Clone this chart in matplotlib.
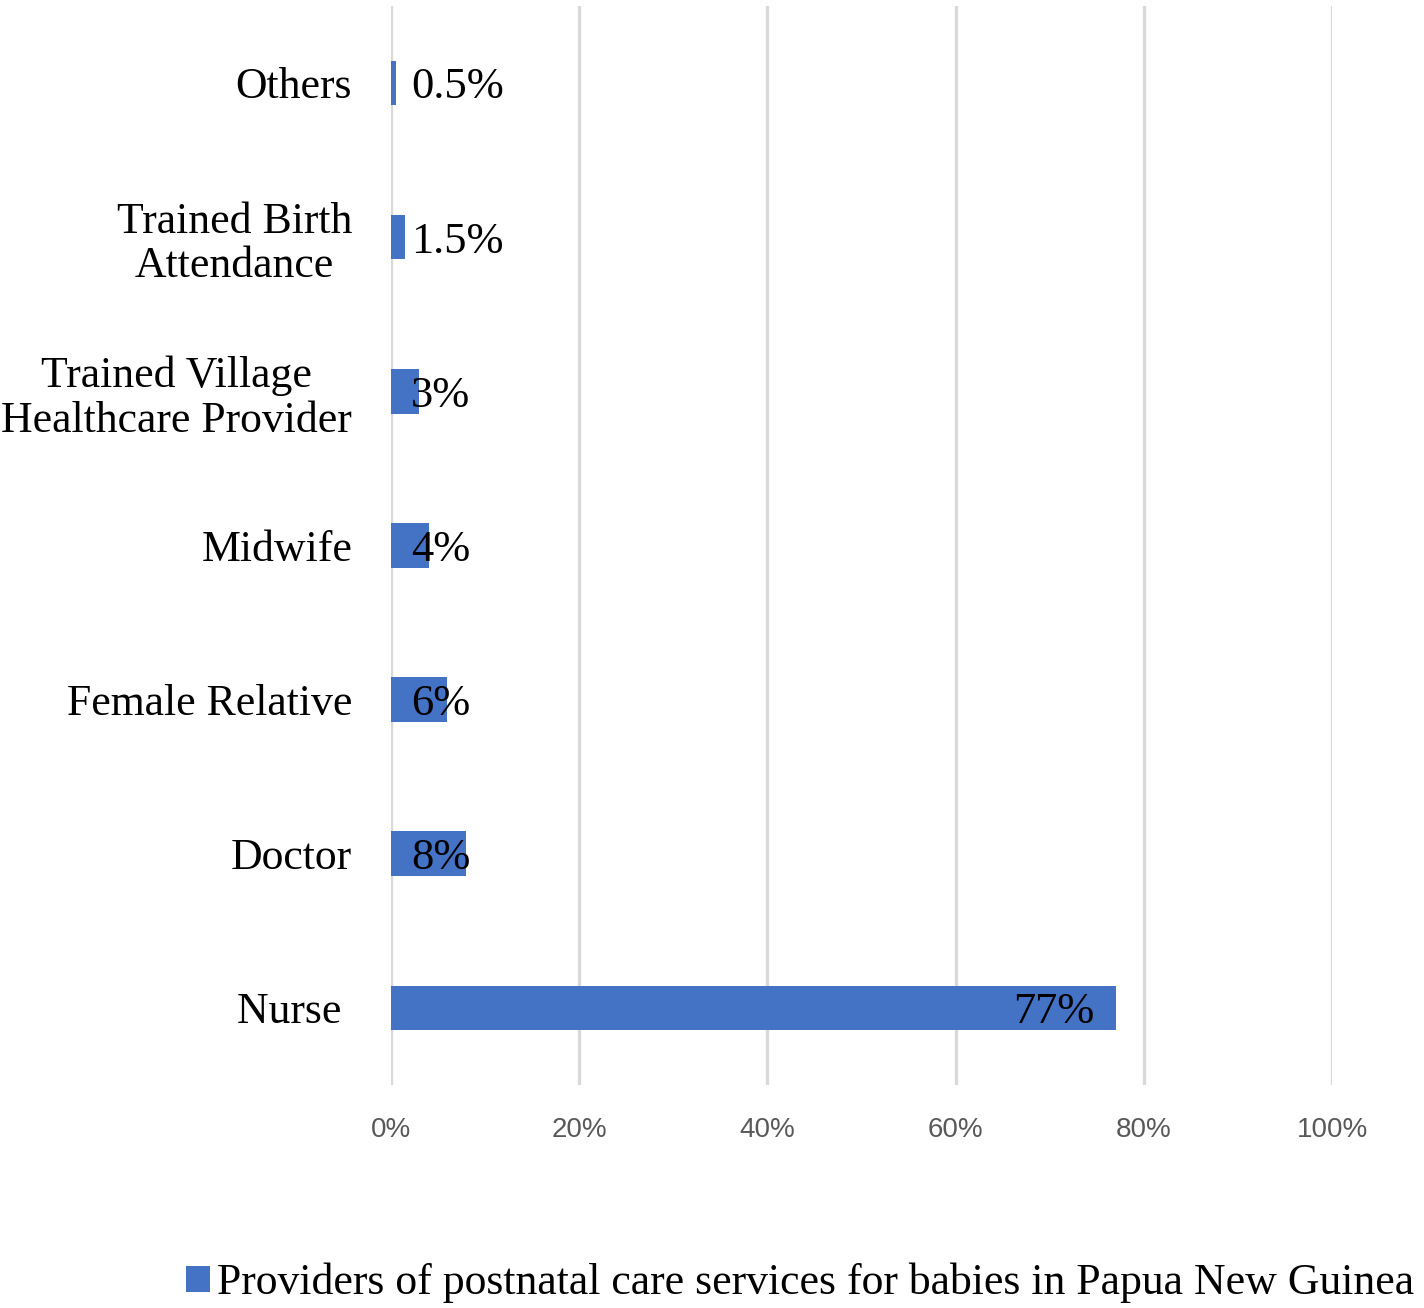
import matplotlib.pyplot as plt
from matplotlib.patches import Patch

# categories bottom -> top
categories = ["Nurse ", "Doctor", "Female Relative", "Midwife",
              "Trained Village\nHealthcare Provider", "Trained Birth\nAttendance", "Others"]
values = [77, 8, 6, 4, 3, 1.5, 0.5]
labels = ["77%", "8%", "6%", "4%", "3%", "1.5%", "0.5%"]
xticks = [0, 20, 40, 60, 80, 100]
xtick_labels = ["0%", "20%", "40%", "60%", "80%", "100%"]
legend_label = "Providers of postnatal care services for babies in Papua New Guinea"

bar_color = "#4472C4"
serif = ["Liberation Serif", "DejaVu Serif"]

fig = plt.figure(figsize=(14.24, 13.08), dpi=100)
ax = fig.add_axes([0.2746, 0.1705, 0.6608, 0.8250])

ypos = range(len(categories))
ax.barh(ypos, values, height=0.29, color=bar_color, zorder=3)

ax.set_xlim(0, 100)
ax.set_ylim(-0.5, len(categories) - 0.5)
ax.set_xticks(xticks)
ax.set_xticklabels(xtick_labels, family=["Liberation Sans"], fontsize=20, color="#595959")
ax.set_yticks(list(ypos))
ax.set_yticklabels(categories, family=serif, fontsize=31.5, ha="right",
                   multialignment="center", linespacing=1.15)
ax.tick_params(axis="y", length=0, pad=28)
ax.tick_params(axis="x", length=0, pad=23)

ax.grid(axis="x", color="#d9d9d9", linewidth=2.4, zorder=0)
for s in ax.spines.values():
    s.set_visible(False)

for y, v, lab in zip(ypos, values, labels):
    if v > 20:
        ax.text(v - 2.3, y, lab, ha="right", va="center_baseline", family=serif, fontsize=32, zorder=4)
    else:
        ax.text(2.1, y, lab, ha="left", va="center_baseline", family=serif, fontsize=32, zorder=4)

handle = Patch(facecolor=bar_color, edgecolor="none")
fig.legend([handle], [legend_label], loc="center", bbox_to_anchor=(0.562, 0.019),
           frameon=False, prop={"family": serif, "size": 31.5},
           handlelength=0.55, handleheight=0.55, handletextpad=0.15)

fig.savefig("out.png", dpi=100)
